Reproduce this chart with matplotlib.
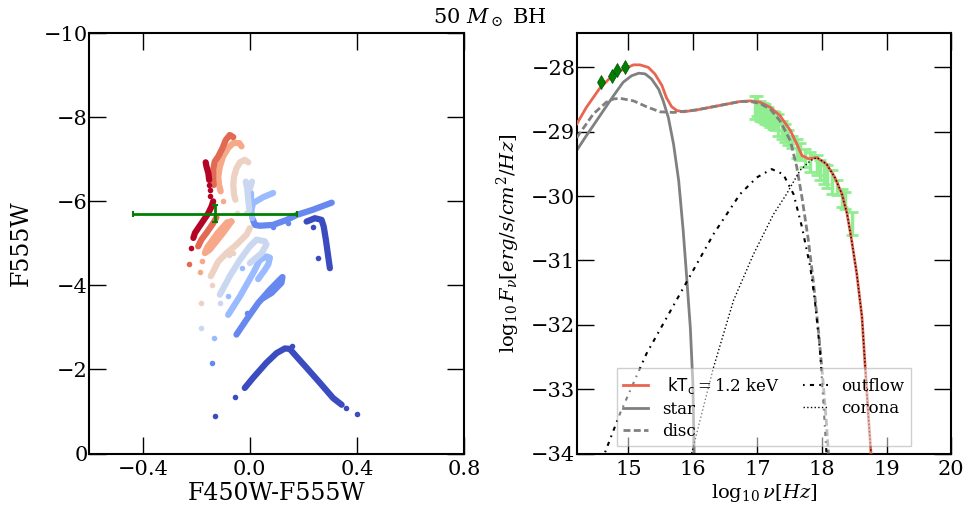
import numpy as np
import matplotlib.pyplot as plt

plt.rcParams['font.family'] = 'DejaVu Serif'
plt.rcParams['mathtext.fontset'] = 'dejavuserif'

# ---- colour-magnitude tracks (F450W-F555W, F555W), one per model, blue -> red
# each track: list of drawn segments, plus isolated sparse points
tracks = [
    {'seg': [[(0.212, -5.52), (0.243, -5.60), (0.268, -5.56), (0.276, -5.40), (0.284, -5.09),
              (0.291, -4.77), (0.299, -4.41)],
             [(-0.019, -1.56), (0.012, -1.80), (0.062, -2.16), (0.100, -2.39), (0.131, -2.50),
              (0.149, -2.49), (0.174, -2.31), (0.212, -2.04), (0.262, -1.68), (0.311, -1.32),
              (0.343, -1.16)]],
     'pts': [(0.237, -5.40), (0.255, -4.65), (0.156, -2.55), (-0.056, -1.34), (-0.132, -0.90),
             (0.361, -1.09), (0.399, -0.94)]},
    {'seg': [[(0.012, -5.56), (0.019, -5.44), (0.037, -5.42), (0.086, -5.44), (0.138, -5.56),
              (0.176, -5.68), (0.235, -5.80), (0.306, -5.97)],
             [(-0.050, -2.83), (-0.012, -3.19), (0.031, -3.58), (0.075, -3.90), (0.112, -4.14),
              (0.122, -4.20), (0.118, -4.06), (0.081, -3.82), (0.050, -3.70)]],
     'pts': [(0.087, -5.40), (0.143, -5.49), (-0.012, -3.34), (-0.140, -2.16)]},
    {'seg': [[(0.087, -6.20), (0.050, -6.10), (0.012, -5.96), (0.006, -5.80), (0.009, -5.60)],
             [(0.006, -6.20), (0.006, -5.96)],
             [(-0.081, -3.30), (-0.037, -3.74), (0.012, -4.29), (0.037, -4.60), (0.062, -4.69),
              (0.075, -4.66), (0.069, -4.50), (0.056, -4.37), (0.031, -4.15)]],
     'pts': [(-0.081, -3.74), (-0.133, -2.75), (-0.031, -4.41)]},
    {'seg': [[(-0.015, -6.47), (-0.010, -6.32), (-0.006, -6.04), (-0.002, -5.80)],
             [(0.008, -6.47), (0.000, -6.30)],
             [(-0.112, -3.78), (-0.075, -4.22), (-0.037, -4.61), (0.000, -4.93), (0.025, -5.09),
              (0.056, -5.05), (0.062, -4.97), (0.044, -4.77), (0.000, -4.53)]],
     'pts': [(-0.015, -5.72), (-0.110, -3.58), (-0.181, -2.99)]},
    {'seg': [[(-0.006, -6.93), (-0.019, -6.99), (-0.037, -6.93), (-0.050, -6.79), (-0.059, -6.59),
              (-0.062, -6.39), (-0.059, -6.16), (-0.054, -6.04)],
             [(0.000, -5.36), (-0.012, -5.21), (-0.050, -4.97), (-0.087, -4.77), (-0.118, -4.57),
              (-0.137, -4.33), (-0.146, -4.22)]],
     'pts': [(-0.047, -5.72), (-0.062, -4.77), (-0.077, -4.73), (-0.143, -4.02), (-0.181, -3.58)]},
    {'seg': [[(-0.031, -7.31), (-0.040, -7.39), (-0.062, -7.39), (-0.081, -7.27), (-0.100, -7.07),
              (-0.112, -6.83), (-0.118, -6.59), (-0.115, -6.39), (-0.109, -6.24)],
             [(-0.069, -5.52), (-0.085, -5.50), (-0.120, -5.25), (-0.160, -4.90), (-0.168, -4.77),
              (-0.150, -4.85), (-0.100, -5.25), (-0.069, -5.52)]],
     'pts': [(-0.100, -6.00), (-0.177, -4.57), (-0.187, -4.31)]},
    {'seg': [[(-0.062, -7.53), (-0.075, -7.58), (-0.090, -7.46), (-0.102, -7.27), (-0.118, -7.07),
              (-0.131, -6.95), (-0.137, -6.75), (-0.137, -6.51), (-0.135, -6.39)],
             [(-0.125, -5.62), (-0.137, -5.48), (-0.162, -5.25), (-0.181, -5.09), (-0.193, -4.93)]],
     'pts': [(-0.227, -4.52)]},
    {'seg': [[(-0.165, -6.93), (-0.162, -6.83), (-0.155, -6.67), (-0.152, -6.51)],
             [(-0.137, -6.00), (-0.143, -5.88), (-0.155, -5.72), (-0.172, -5.56), (-0.189, -5.40),
              (-0.205, -5.25), (-0.211, -5.13)]],
     'pts': [(-0.152, -6.39), (-0.149, -6.28), (-0.150, -6.13), (-0.218, -4.90)]},
]

# observed source in the CMD
obs_col, obs_col_err = -0.130, 0.308
obs_mag, obs_mag_err = -5.71, 0.21

# ---- SED model components (log nu, log F_nu)
total_nu = [14.20, 14.35, 14.56, 14.77, 14.92, 15.08, 15.18, 15.31, 15.41, 15.52, 15.59, 15.67,
            15.75, 15.85, 16.06, 16.32, 16.73, 16.89, 17.04, 17.20, 17.35, 17.51, 17.61, 17.69,
            17.79, 17.92, 18.07, 18.20, 18.31, 18.39, 18.46, 18.54, 18.62, 18.67, 18.72, 18.76]
total_f = [-28.88, -28.62, -28.32, -28.11, -28.03, -27.96, -27.96, -28.00, -28.10, -28.28, -28.47,
           -28.61, -28.67, -28.69, -28.66, -28.61, -28.53, -28.52, -28.54, -28.62, -28.75, -28.98,
           -29.19, -29.37, -29.42, -29.40, -29.50, -29.71, -29.97, -30.28, -30.69, -31.21, -31.88,
           -32.66, -33.43, -34.00]

star_nu = [14.20, 14.35, 14.56, 14.77, 14.92, 15.05, 15.16, 15.26, 15.36, 15.47, 15.54, 15.62,
           15.70, 15.78, 15.85, 15.90, 15.96, 16.00, 16.02]
star_f = [-29.29, -29.06, -28.75, -28.44, -28.23, -28.13, -28.09, -28.10, -28.18, -28.34, -28.52,
          -28.78, -29.19, -29.76, -30.54, -31.21, -32.04, -32.92, -34.00]

disc_nu = [14.20, 14.46, 14.66, 14.77, 14.87, 15.08, 15.28, 15.49, 15.70, 16.06, 16.32, 16.73,
           16.89, 17.04, 17.20, 17.35, 17.51, 17.61, 17.69, 17.79, 17.87, 17.95, 18.02, 18.07, 18.10]
disc_f = [-29.09, -28.72, -28.54, -28.49, -28.48, -28.52, -28.61, -28.69, -28.70, -28.66, -28.61,
          -28.53, -28.53, -28.56, -28.65, -28.83, -29.14, -29.55, -30.02, -30.69, -31.36, -32.14,
          -32.92, -33.54, -34.00]

outflow_nu = [14.64, 14.87, 15.28, 15.80, 16.32, 16.73, 16.99, 17.22, 17.40, 17.56, 17.69, 17.82,
              17.89, 17.97, 18.02, 18.07]
outflow_f = [-33.98, -33.38, -32.45, -31.52, -30.59, -29.97, -29.71, -29.58, -29.66, -29.97, -30.48,
             -31.11, -31.62, -32.40, -33.18, -34.00]

corona_nu = [15.98, 16.32, 16.63, 16.94, 17.25, 17.45, 17.66, 17.82, 17.92, 18.07, 18.20, 18.31,
             18.39, 18.46, 18.54, 18.62, 18.67, 18.72, 18.76]
corona_f = [-34.00, -32.66, -31.62, -30.90, -30.28, -29.97, -29.60, -29.45, -29.40, -29.50, -29.71,
            -29.97, -30.28, -30.69, -31.21, -31.88, -32.66, -33.43, -34.00]

# optical photometry
opt_nu = [14.57, 14.75, 14.82, 14.95]
opt_f = [-28.23, -28.13, -28.04, -27.99]

# X-ray spectrum
xray_nu = [16.965, 16.99, 17.042, 17.08, 17.120, 17.16, 17.197, 17.24, 17.275, 17.326, 17.378,
           17.430, 17.481, 17.533, 17.610, 17.662, 17.740, 17.817, 17.921, 17.972, 18.024, 18.076,
           18.153, 18.231, 18.308, 18.360, 18.463]
xray_f = [-28.62, -28.60, -28.67, -28.70, -28.72, -28.76, -28.80, -28.82, -28.84, -28.89, -28.97,
          -29.02, -29.09, -29.16, -29.26, -29.31, -29.41, -29.47, -29.52, -29.60, -29.65, -29.70,
          -29.78, -29.87, -30.03, -30.07, -30.43]
xray_err = [0.18, 0.16, 0.155, 0.15, 0.155, 0.14, 0.13, 0.14, 0.14, 0.17, 0.14, 0.14, 0.12, 0.10,
            0.155, 0.13, 0.14, 0.155, 0.155, 0.155, 0.155, 0.18, 0.18, 0.12, 0.14, 0.13, 0.18]

fig = plt.figure(figsize=(9.67, 5.07), dpi=100)
ax1 = fig.add_axes([0.0923, 0.1055, 0.3875, 0.8288])
ax2 = fig.add_axes([0.5964, 0.1055, 0.3871, 0.8288])

# left: colour-magnitude diagram
colors = plt.cm.coolwarm(np.linspace(0, 1, len(tracks)))
for trk, c in zip(tracks, colors):
    for seg in trk['seg']:
        s = np.array(seg)
        ax1.plot(s[:, 0], s[:, 1], '-', color=c, lw=4.5, solid_capstyle='round',
                 solid_joinstyle='round')
    p = np.array(trk['pts'])
    ax1.plot(p[:, 0], p[:, 1], 'o', color=c, ms=4, mec='none')

ax1.errorbar(obs_col, obs_mag, xerr=obs_col_err, yerr=obs_mag_err, color='green', lw=2,
             capsize=2, capthick=1.5)

ax1.set_xlim(-0.6, 0.8)
ax1.set_ylim(0, -10)
ax1.set_xticks([-0.4, 0.0, 0.4, 0.8])
ax1.set_yticks([0, -2, -4, -6, -8, -10])
ax1.set_xlabel('F450W-F555W', fontsize=17)
ax1.set_ylabel('F555W', fontsize=17)
ax1.xaxis.set_label_coords(0.5, -0.068)
ax1.yaxis.set_label_coords(-0.150, 0.5)

# right: spectral energy distribution
ax2.errorbar(xray_nu, xray_f, yerr=xray_err, fmt='none', ecolor='#90ee90', elinewidth=2.5,
             capsize=4, capthick=2, zorder=1)
ax2.plot(total_nu, total_f, '-', color='#e8664f', lw=2, label=r' $\mathsf{kT_c}=$1.2 keV', zorder=3)
ax2.plot(star_nu, star_f, '-', color='gray', lw=2, label='star', zorder=2)
ax2.plot(disc_nu, disc_f, color='gray', lw=2, ls=(0, (2.5, 1.2)), label='disc', zorder=4)
ax2.plot(outflow_nu, outflow_f, color='black', lw=1.5, ls=(0, (0.8, 2.5, 2, 2.5)),
         label='outflow', zorder=4)
ax2.plot(corona_nu, corona_f, color='black', lw=1, ls=':', label='corona', zorder=4)
ax2.plot(opt_nu, opt_f, 'd', color='green', ms=7, mec='#005000', mew=0.5, zorder=5)

ax2.set_xlim(14.2, 20)
ax2.set_ylim(-34, -27.47)
ax2.set_xticks([15, 16, 17, 18, 19, 20])
ax2.set_yticks([-34, -33, -32, -31, -30, -29, -28])
ax2.set_xlabel(r'$\log_{10}\nu[Hz]$', fontsize=14)
ax2.set_ylabel(r'$\log_{10}F_{\nu}[erg/s/cm^2/Hz]$', fontsize=14)
ax2.xaxis.set_label_coords(0.5, -0.068)
ax2.yaxis.set_label_coords(-0.147, 0.5)

leg = ax2.legend(loc='lower center', bbox_to_anchor=(0.5, 0.017), borderaxespad=0, ncol=2,
                 fontsize=12, fancybox=False, framealpha=0.5, handlelength=1.5,
                 handletextpad=0.8, columnspacing=1.4, labelspacing=0.3)
leg.get_frame().set_edgecolor('#a0a0a0')

for ax in (ax1, ax2):
    ax.tick_params(direction='in', length=12, width=1, top=True, right=True, labelsize=15)
    ax.tick_params(axis='x', pad=5)
    ax.tick_params(axis='y', pad=1)
    for sp in ax.spines.values():
        sp.set_linewidth(1.5)

fig.text(0.507, 0.9645, r'50 $M_\odot$ BH', ha='center', va='center', fontsize=15)

fig.savefig('out.png', dpi=100)
